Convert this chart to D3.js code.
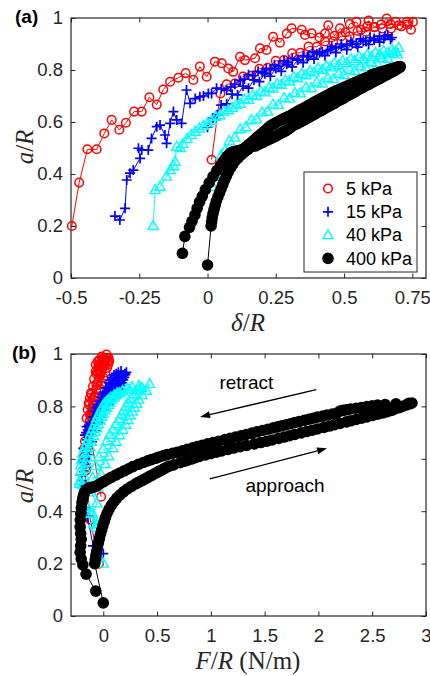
<!DOCTYPE html>
<html>
<head>
<meta charset="utf-8">
<script src="https://cdn.jsdelivr.net/npm/d3@7"></script>
<style>
  body { margin: 0; background: #fff; }
  svg { display: block; font-family: Arial, "Liberation Sans", sans-serif; }
</style>
</head>
<body>
<svg id="fig" width="430" height="676"></svg>
<script>
// Each point: [delta/R, a/R, F/R (N/m)], in measurement order (approach, then retract).
const soft5kPa = [
  [0.015,0.455,-0.02],[0.047,0.71,-0.13],
  [0.07,0.745,-0.125],[0.10,0.748,-0.095],[0.13,0.775,-0.11],[0.16,0.778,-0.075],[0.19,0.805,-0.095],
  [0.22,0.808,-0.06],[0.25,0.835,-0.08],[0.28,0.838,-0.045],[0.31,0.864,-0.065],[0.34,0.866,-0.03],
  [0.37,0.89,-0.05],[0.40,0.889,-0.015],[0.43,0.91,-0.035],[0.46,0.91,0.0],[0.49,0.93,-0.02],
  [0.52,0.93,0.02],[0.55,0.95,0.0],[0.58,0.947,0.035],[0.61,0.965,0.01],[0.64,0.96,0.045],
  [0.67,0.977,0.02],[0.70,0.972,0.055],[0.73,0.985,0.03],
  [0.752,0.985,0.05],[0.745,0.955,0.015],[0.73,0.975,0.045],[0.71,0.968,0.005],[0.69,0.985,0.035],
  [0.672,0.96,-0.005],[0.656,0.998,0.03],[0.635,0.975,-0.01],[0.612,0.965,0.015],[0.59,0.99,-0.015],
  [0.585,0.968,0.005],[0.562,0.955,-0.03],[0.545,0.985,0.005],[0.521,0.977,-0.035],[0.505,0.945,-0.015],
  [0.485,0.96,-0.045],[0.465,0.932,-0.025],[0.442,0.972,-0.05],[0.43,0.94,-0.03],[0.41,0.925,-0.065],
  [0.381,0.941,-0.035],[0.357,0.935,-0.07],[0.345,0.955,-0.035],[0.308,0.96,-0.07],[0.29,0.94,-0.045],
  [0.265,0.905,-0.085],[0.24,0.928,-0.05],[0.216,0.877,-0.095],[0.192,0.883,-0.065],[0.174,0.845,-0.11],
  [0.137,0.838,-0.085],[0.119,0.851,-0.115],[0.094,0.793,-0.1],[0.076,0.806,-0.13],[0.052,0.826,-0.095],
  [0.027,0.832,-0.125],[-0.003,0.774,-0.11],[-0.028,0.813,-0.135],[-0.052,0.762,-0.115],[-0.08,0.788,-0.145],
  [-0.107,0.77,-0.125],[-0.137,0.755,-0.155],[-0.162,0.725,-0.135],[-0.186,0.667,-0.17],[-0.213,0.695,-0.145],
  [-0.241,0.64,-0.175],[-0.269,0.64,-0.155],[-0.299,0.597,-0.18],[-0.323,0.57,-0.16],[-0.351,0.608,-0.18],
  [-0.378,0.556,-0.16],[-0.406,0.495,-0.175],[-0.44,0.495,-0.15],[-0.47,0.367,-0.12],[-0.497,0.2,-0.04]
];

const soft15kPa = [
  [0.0,0.58,-0.16],[0.02,0.615,-0.13],[0.035,0.628,-0.155],[0.05,0.665,-0.105],[0.07,0.67,-0.13],
  [0.09,0.707,-0.075],[0.11,0.704,-0.105],[0.13,0.738,-0.05],[0.15,0.73,-0.08],[0.17,0.762,-0.02],
  [0.19,0.755,-0.05],[0.21,0.786,0.01],[0.23,0.776,-0.02],[0.25,0.806,0.045],[0.27,0.795,0.01],
  [0.29,0.822,0.075],[0.31,0.812,0.04],[0.33,0.838,0.1],[0.35,0.828,0.065],[0.37,0.853,0.125],
  [0.39,0.842,0.09],[0.41,0.866,0.145],[0.43,0.855,0.11],[0.45,0.879,0.16],[0.47,0.867,0.125],
  [0.49,0.89,0.175],[0.51,0.878,0.14],[0.53,0.901,0.185],[0.55,0.888,0.15],[0.57,0.911,0.195],
  [0.59,0.898,0.165],[0.61,0.921,0.205],[0.63,0.907,0.175],[0.65,0.93,0.215],[0.67,0.918,0.19],
  [0.675,0.925,0.2],[0.66,0.935,0.165],[0.645,0.92,0.18],[0.63,0.93,0.14],[0.61,0.915,0.16],
  [0.595,0.925,0.12],[0.58,0.91,0.14],[0.56,0.92,0.1],[0.545,0.9,0.12],[0.525,0.91,0.08],
  [0.51,0.895,0.105],[0.49,0.9,0.065],[0.47,0.885,0.09],[0.455,0.89,0.05],[0.44,0.875,0.075],
  [0.42,0.87,0.035],[0.40,0.862,0.06],[0.385,0.87,0.025],[0.365,0.85,0.045],[0.35,0.855,0.01],
  [0.33,0.84,0.035],[0.31,0.845,-0.005],[0.295,0.83,0.02],[0.28,0.835,-0.02],[0.26,0.815,0.005],
  [0.245,0.82,-0.035],[0.23,0.80,-0.01],[0.215,0.805,-0.05],[0.2,0.79,-0.025],[0.185,0.795,-0.065],
  [0.165,0.778,-0.04],[0.15,0.782,-0.08],[0.135,0.765,-0.055],[0.12,0.76,-0.095],[0.10,0.745,-0.075],
  [0.085,0.735,-0.115],[0.07,0.722,-0.095],[0.05,0.728,-0.13],[0.033,0.73,-0.105],[0.015,0.71,-0.145],
  [0.003,0.71,-0.12],[-0.015,0.70,-0.16],[-0.028,0.697,-0.135],[-0.045,0.69,-0.17],[-0.064,0.672,-0.15],
  [-0.077,0.723,-0.155],[-0.095,0.595,-0.19],[-0.113,0.608,-0.17],[-0.125,0.64,-0.185],[-0.137,0.595,-0.175],
  [-0.15,0.518,-0.2],[-0.156,0.55,-0.18],[-0.174,0.588,-0.195],[-0.186,0.582,-0.18],[-0.205,0.537,-0.2],
  [-0.217,0.492,-0.185],[-0.241,0.492,-0.195],[-0.253,0.499,-0.18],[-0.247,0.46,-0.185],[-0.272,0.415,-0.17],
  [-0.284,0.403,-0.16],[-0.296,0.377,-0.145],[-0.302,0.268,-0.095],[-0.321,0.223,-0.05],[-0.339,0.238,0.0]
];

const soft40kPa = [
  [0.02,0.35,-0.06],[0.03,0.39,-0.1],[0.04,0.43,-0.06],[0.05,0.472,-0.11],[0.065,0.49,-0.05],
  [0.08,0.527,-0.1],[0.1,0.54,-0.02],[0.12,0.572,-0.07],[0.14,0.58,0.02],[0.16,0.607,-0.04],
  [0.18,0.61,0.05],[0.2,0.637,0.0],[0.22,0.64,0.09],[0.24,0.667,0.03],[0.26,0.665,0.12],
  [0.28,0.692,0.06],[0.3,0.69,0.15],[0.32,0.712,0.09],[0.34,0.71,0.18],[0.36,0.732,0.12],
  [0.38,0.73,0.21],[0.4,0.752,0.15],[0.42,0.748,0.23],[0.44,0.769,0.17],[0.46,0.765,0.25],
  [0.48,0.785,0.19],[0.5,0.78,0.27],[0.52,0.8,0.21],[0.54,0.795,0.29],[0.56,0.814,0.23],
  [0.58,0.81,0.31],[0.6,0.83,0.26],[0.62,0.826,0.33],[0.64,0.846,0.29],[0.66,0.843,0.36],
  [0.68,0.864,0.33],[0.695,0.86,0.4],
  [0.70,0.885,0.43],[0.69,0.87,0.36],[0.675,0.878,0.33],[0.66,0.865,0.24],[0.645,0.873,0.27],
  [0.63,0.858,0.18],[0.615,0.866,0.22],[0.60,0.85,0.13],[0.585,0.858,0.18],[0.57,0.842,0.1],
  [0.555,0.85,0.15],[0.54,0.834,0.07],[0.525,0.842,0.12],[0.51,0.826,0.05],[0.495,0.834,0.1],
  [0.48,0.818,0.03],[0.465,0.826,0.08],[0.45,0.81,0.01],[0.435,0.815,0.06],[0.42,0.8,-0.005],
  [0.405,0.806,0.05],[0.39,0.79,-0.02],[0.375,0.795,0.03],[0.36,0.78,-0.03],[0.345,0.785,0.015],
  [0.33,0.768,-0.045],[0.315,0.773,0.0],[0.3,0.756,-0.06],[0.285,0.76,-0.015],[0.27,0.743,-0.07],
  [0.255,0.746,-0.03],[0.24,0.729,-0.085],[0.225,0.732,-0.045],[0.21,0.714,-0.1],[0.195,0.717,-0.06],
  [0.18,0.7,-0.115],[0.165,0.702,-0.075],[0.15,0.685,-0.13],[0.135,0.687,-0.09],[0.12,0.67,-0.145],
  [0.105,0.665,-0.11],[0.09,0.655,-0.16],[0.075,0.645,-0.125],[0.06,0.64,-0.175],[0.045,0.625,-0.14],
  [0.03,0.62,-0.19],[0.015,0.605,-0.15],[0.0,0.595,-0.2],[-0.015,0.585,-0.16],[-0.03,0.575,-0.21],
  [-0.045,0.562,-0.17],[-0.06,0.55,-0.215],[-0.075,0.535,-0.18],[-0.09,0.515,-0.22],[-0.1,0.5,-0.19],
  [-0.113,0.505,-0.22],[-0.119,0.447,-0.2],[-0.125,0.43,-0.17],[-0.137,0.415,-0.15],[-0.15,0.39,-0.12],
  [-0.174,0.351,-0.09],[-0.192,0.338,-0.06],[-0.199,0.2,0.0]
];

const stiff400kPa = [
  // approach
  [0.000,0.050,0.00],[0.013,0.200,-0.080],[0.015,0.216,-0.074],[0.017,0.232,-0.068],[0.020,0.248,-0.061],
  [0.024,0.264,-0.054],[0.028,0.280,-0.045],[0.032,0.296,-0.036],[0.038,0.312,-0.026],[0.044,0.328,-0.015],
  [0.050,0.344,-0.004],[0.056,0.360,0.008],[0.062,0.376,0.020],[0.069,0.392,0.035],[0.076,0.408,0.054],
  [0.084,0.423,0.076],[0.092,0.437,0.100],[0.101,0.450,0.125],[0.112,0.462,0.155],[0.124,0.474,0.188],
  [0.136,0.485,0.224],[0.148,0.495,0.262],[0.160,0.504,0.300],
  [0.176,0.508,0.318],[0.185,0.513,0.341],[0.194,0.518,0.364],[0.203,0.522,0.382],[0.212,0.527,0.405],
  [0.221,0.531,0.423],[0.230,0.536,0.446],[0.239,0.540,0.464],[0.248,0.545,0.486],[0.257,0.550,0.509],
  [0.266,0.555,0.532],[0.275,0.560,0.555],[0.284,0.565,0.577],[0.293,0.571,0.608],[0.302,0.577,0.653],
  [0.311,0.585,0.713],[0.320,0.590,0.750],[0.329,0.594,0.780],[0.338,0.599,0.818],[0.347,0.604,0.855],
  [0.356,0.609,0.893],[0.365,0.615,0.950],[0.374,0.620,1.000],[0.383,0.625,1.050],[0.392,0.630,1.100],
  [0.401,0.636,1.160],[0.410,0.641,1.212],[0.419,0.646,1.272],[0.428,0.651,1.332],[0.437,0.657,1.404],
  [0.446,0.662,1.464],[0.455,0.667,1.520],[0.464,0.672,1.570],[0.473,0.678,1.630],[0.482,0.683,1.680],
  [0.491,0.688,1.730],[0.500,0.693,1.780],[0.509,0.699,1.840],[0.518,0.704,1.890],[0.527,0.709,1.940],
  [0.536,0.714,1.990],[0.545,0.720,2.050],[0.554,0.725,2.100],[0.563,0.730,2.150],[0.572,0.735,2.200],
  [0.581,0.741,2.260],[0.590,0.745,2.300],[0.599,0.750,2.350],[0.608,0.755,2.400],[0.617,0.760,2.450],
  [0.626,0.765,2.500],[0.635,0.770,2.550],[0.644,0.775,2.600],[0.653,0.780,2.640],[0.662,0.785,2.680],
  [0.671,0.790,2.710],[0.680,0.795,2.750],[0.689,0.800,2.780],[0.697,0.806,2.820],[0.703,0.810,2.850],
  [0.706,0.813,2.870],
  // retract
  [0.700,0.812,2.84],[0.691,0.810,2.72],[0.682,0.807,2.62],[0.673,0.805,2.55],[0.664,0.802,2.50],
  [0.655,0.799,2.45],[0.646,0.796,2.40],[0.637,0.793,2.35],[0.628,0.790,2.30],[0.619,0.787,2.26],
  [0.610,0.785,2.23],[0.601,0.782,2.20],[0.592,0.774,2.17],[0.583,0.771,2.13],[0.574,0.767,2.08],
  [0.565,0.763,2.04],[0.556,0.759,1.99],[0.547,0.755,1.95],[0.538,0.751,1.91],[0.529,0.747,1.87],
  [0.520,0.742,1.82],[0.511,0.738,1.78],[0.502,0.734,1.74],[0.493,0.730,1.70],[0.484,0.726,1.66],
  [0.475,0.722,1.62],[0.466,0.718,1.58],[0.457,0.713,1.53],[0.448,0.708,1.48],[0.439,0.703,1.43],
  [0.430,0.698,1.38],[0.421,0.693,1.33],[0.412,0.688,1.28],[0.403,0.683,1.23],[0.394,0.678,1.18],
  [0.385,0.673,1.13],[0.376,0.667,1.07],[0.367,0.662,1.02],[0.358,0.657,0.97],[0.349,0.652,0.92],
  [0.340,0.647,0.874],[0.331,0.642,0.831],[0.322,0.636,0.780],[0.313,0.631,0.737],[0.304,0.625,0.686],
  [0.295,0.621,0.643],[0.286,0.616,0.593],[0.277,0.612,0.560],[0.268,0.607,0.520],[0.259,0.602,0.487],
  [0.250,0.597,0.447],[0.241,0.592,0.413],[0.232,0.586,0.373],[0.223,0.579,0.327],[0.214,0.570,0.275],
  [0.205,0.562,0.235],[0.196,0.554,0.195],[0.187,0.546,0.155],[0.178,0.538,0.115],[0.169,0.529,0.074],
  [0.160,0.521,0.039],[0.151,0.513,0.005],[0.142,0.505,-0.030],[0.133,0.497,-0.060],[0.124,0.493,-0.085],
  [0.115,0.490,-0.105],[0.106,0.488,-0.125],[0.097,0.486,-0.140],[0.088,0.483,-0.155],[0.080,0.477,-0.168],
  [0.072,0.468,-0.178],[0.064,0.457,-0.186],[0.056,0.446,-0.192],[0.047,0.432,-0.198],[0.034,0.413,-0.204],
  [0.020,0.390,-0.209],[0.006,0.366,-0.214],[-0.008,0.340,-0.215],[-0.019,0.315,-0.210],[-0.029,0.293,-0.205],
  [-0.038,0.268,-0.210],[-0.046,0.243,-0.215],[-0.057,0.218,-0.205],[-0.066,0.195,-0.190],[-0.083,0.160,-0.160],
  [-0.092,0.095,-0.070]
];

const seriesNames = ["5 kPa", "15 kPa", "40 kPa", "400 kPa"];
const seriesColors = ["#ff0000", "#0000ff", "#00ffff", "#000000"];
const seriesMarkers = ["circle", "plus", "triangle", "dot"];
const seriesData = [soft5kPa, soft15kPa, soft40kPa, stiff400kPa];

const yTicks = [0, 0.2, 0.4, 0.6, 0.8, 1];
const xTicksA = [-0.5, -0.25, 0, 0.25, 0.5, 0.75];
const xTicksB = [0, 0.5, 1, 1.5, 2, 2.5, 3];

const svg = d3.select("#fig");
const axisColor = "#262626";

function addMarker(g, kind, color, cx, cy) {
  if (kind === "circle") {
    g.append("circle").attr("cx", cx).attr("cy", cy).attr("r", 4.3)
      .attr("fill", "none").attr("stroke", color).attr("stroke-width", 1.5);
  } else if (kind === "dot") {
    g.append("circle").attr("cx", cx).attr("cy", cy).attr("r", 5.8).attr("fill", color);
  } else if (kind === "plus") {
    g.append("path").attr("transform", `translate(${cx},${cy})`)
      .attr("d", "M-5,0H5M0,-5V5").attr("stroke", color).attr("stroke-width", 1.7).attr("fill", "none");
  } else if (kind === "triangle") {
    g.append("path").attr("transform", `translate(${cx},${cy})`)
      .attr("d", "M0,-5.5L5,3.5L-5,3.5Z").attr("stroke", color).attr("stroke-width", 1.4).attr("fill", "none");
  }
}

function drawPanel(box, xDomain, xTicks, xi) {
  const x = d3.scaleLinear().domain(xDomain).range([box.left, box.right]);
  const y = d3.scaleLinear().domain([0, 1]).range([box.bottom, box.top]);
  const g = svg.append("g");

  const fmt = d => String(d);
  const styleAxis = sel => {
    sel.selectAll("path.domain").remove();
    sel.selectAll("line").attr("stroke", axisColor).attr("stroke-width", 1);
    sel.selectAll("text").attr("fill", axisColor).style("font-size", "18.5px")
      .style("font-family", "Arial, 'Liberation Sans', sans-serif");
  };

  g.append("g").attr("transform", `translate(0,${box.bottom})`)
    .call(d3.axisBottom(x).tickValues(xTicks).tickFormat(fmt).tickSize(-4.5).tickPadding(12.5))
    .call(styleAxis);
  g.append("g").attr("transform", `translate(0,${box.top})`)
    .call(d3.axisTop(x).tickValues(xTicks).tickFormat("").tickSize(-4.5))
    .call(styleAxis);
  g.append("g").attr("transform", `translate(${box.left},0)`)
    .call(d3.axisLeft(y).tickValues(yTicks).tickFormat(fmt).tickSize(-4.5).tickPadding(8))
    .call(styleAxis);
  g.append("g").attr("transform", `translate(${box.right},0)`)
    .call(d3.axisRight(y).tickValues(yTicks).tickFormat("").tickSize(-4.5))
    .call(styleAxis);

  g.append("rect").attr("x", box.left).attr("y", box.top)
    .attr("width", box.right - box.left).attr("height", box.bottom - box.top)
    .attr("fill", "none").attr("stroke", axisColor).attr("stroke-width", 1.2);

  const line = d3.line().x(p => x(p[xi])).y(p => y(p[1]));
  seriesData.forEach((pts, i) => {
    const sg = g.append("g");
    sg.append("path").attr("d", line(pts)).attr("fill", "none")
      .attr("stroke", seriesColors[i]).attr("stroke-width", 1);
    pts.forEach(p => addMarker(sg, seriesMarkers[i], seriesColors[i], x(p[xi]), y(p[1])));
  });
  return { x, y, g };
}

function mathLabel(parent, x, y, parts, rotate) {
  const t = parent.append("text")
    .attr("text-anchor", "middle")
    .attr("font-family", "'Liberation Serif', 'DejaVu Serif', serif")
    .attr("font-size", 25).attr("fill", axisColor)
    .attr("transform", `translate(${x},${y})` + (rotate ? " rotate(-90)" : ""))
    .attr("dy", "0.35em");
  parts.forEach(([s, italic]) => t.append("tspan").text(s).attr("font-style", italic ? "italic" : "normal"));
}

// Panel (a): contact radius vs indentation
const boxA = { left: 71, right: 426, top: 18, bottom: 278 };
const pa = drawPanel(boxA, [-0.5, 0.8], xTicksA, 0);
mathLabel(svg, 248, 322, [["δ", true], ["/", false], ["R", true]], false);
mathLabel(svg, 24, 147, [["a", true], ["/", false], ["R", true]], true);
svg.append("text").attr("x", 15).attr("y", 23).text("(a)")
  .attr("font-weight", "bold").attr("font-size", 19).attr("fill", "#000");

// Legend
const leg = svg.append("g");
leg.append("rect").attr("x", 304).attr("y", 172).attr("width", 113).attr("height", 100)
  .attr("fill", "#fff").attr("stroke", axisColor).attr("stroke-width", 1);
seriesNames.forEach((name, i) => {
  const cy = 188.5 + i * 23.3;
  addMarker(leg, seriesMarkers[i], seriesColors[i], 328, cy);
  leg.append("text").attr("x", 346).attr("y", cy).attr("dy", "0.35em")
    .attr("font-size", 18).attr("fill", "#000").text(name);
});

// Panel (b): contact radius vs force
const boxB = { left: 71, right: 426, top: 354, bottom: 616 };
const pb = drawPanel(boxB, [-0.3, 3], xTicksB, 2);
mathLabel(svg, 248, 660, [["F", true], ["/", false], ["R", true], [" (N/m)", false]], false);
mathLabel(svg, 24, 486, [["a", true], ["/", false], ["R", true]], true);
svg.append("text").attr("x", 12).attr("y", 359).text("(b)")
  .attr("font-weight", "bold").attr("font-size", 19).attr("fill", "#000");

// Direction annotations, positioned in data units of panel (b)
const arrows = [
  { from: [1.98, 0.864], to: [0.90, 0.760] },
  { from: [0.99, 0.523], to: [2.08, 0.640] }
];
const notes = [
  { text: "retract", at: [1.33, 0.89] },
  { text: "approach", at: [1.69, 0.50] }
];
arrows.forEach(a => {
  const x1 = pb.x(a.from[0]), y1 = pb.y(a.from[1]);
  const x2 = pb.x(a.to[0]), y2 = pb.y(a.to[1]);
  const ang = Math.atan2(y2 - y1, x2 - x1);
  const L = 10, Wd = 3.5;
  const bx = x2 - L * Math.cos(ang), by = y2 - L * Math.sin(ang);
  svg.append("line").attr("x1", x1).attr("y1", y1).attr("x2", bx).attr("y2", by)
    .attr("stroke", "#000").attr("stroke-width", 1.3);
  const px = -Math.sin(ang), py = Math.cos(ang);
  svg.append("path")
    .attr("d", `M${x2},${y2}L${bx + px * Wd},${by + py * Wd}L${bx - px * Wd},${by - py * Wd}Z`)
    .attr("fill", "#000");
});
notes.forEach(n => {
  svg.append("text").attr("x", pb.x(n.at[0])).attr("y", pb.y(n.at[1])).attr("dy", "0.35em")
    .attr("text-anchor", "middle").attr("font-size", 19).attr("fill", "#000").text(n.text);
});
</script>
</body>
</html>
